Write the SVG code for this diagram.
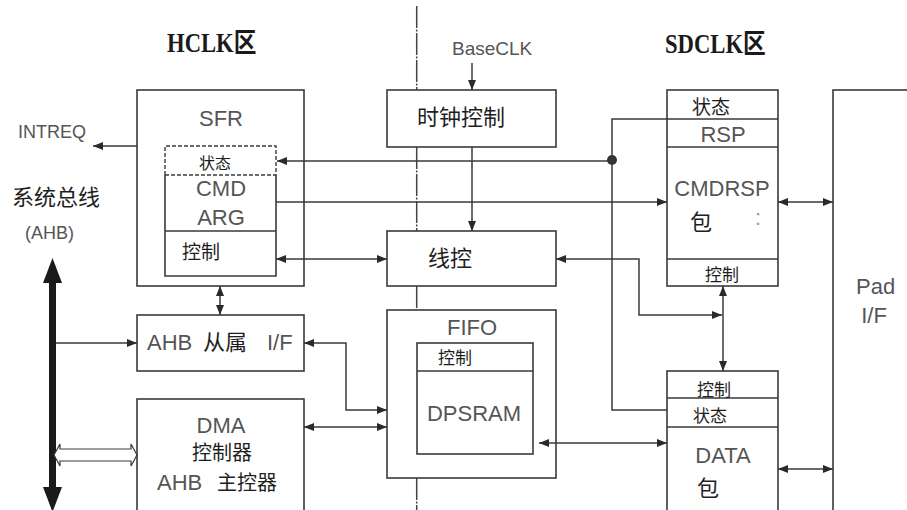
<svg xmlns="http://www.w3.org/2000/svg" width="907" height="510" viewBox="0 0 907 510">
<style>
.box{fill:none;stroke:#3a3a3a;stroke-width:1.6}
.ln{fill:none;stroke:#3a3a3a;stroke-width:1.5}
.dash{fill:none;stroke:#3a3a3a;stroke-width:1.4;stroke-dasharray:4 2}
.zone{fill:none;stroke:#444;stroke-width:1.5;stroke-dasharray:22 1.5 2 1.5}
.lt{font-family:"Liberation Sans","Noto Sans CJK SC",sans-serif;font-size:22px;fill:#555}
.cj{font-family:"Noto Sans CJK SC","Liberation Sans",sans-serif;fill:#1e1e1e}
.ttl{font-family:"Liberation Serif","Noto Sans CJK SC",serif;font-weight:bold;font-size:27px;fill:#1a1a1a}
.m{text-anchor:middle}
</style>
<defs>
<marker id="ah" viewBox="0 0 10 8" refX="10" refY="4" markerWidth="10" markerHeight="8" markerUnits="userSpaceOnUse" orient="auto-start-reverse">
<path d="M0,0 L10,4 L0,8 z" fill="#2a2a2a"/>
</marker>
</defs>
<rect width="907" height="510" fill="#fff"/>

<g id="zone-divider">
<path class="zone" d="M416.7,6 V90 M416.7,147 V231 M416.7,286 V310 M416.7,478 V510"/>
</g>

<g id="titles">
<text class="ttl" transform="translate(167,52) scale(0.84,1)" x="0" y="0">HCLK区</text>
<text class="ttl" transform="translate(665,53) scale(0.84,1)" x="0" y="0">SDCLK区</text>
</g>

<g id="labels">
<text class="lt" x="18" y="138" style="font-size:18px">INTREQ</text>
<text class="cj" x="12" y="205" style="font-size:22px">系统总线</text>
<text class="lt" x="25" y="239" style="font-size:18px">(AHB)</text>
<text class="lt" x="452" y="55" style="font-size:19px">BaseCLK</text>
</g>

<g id="bus">
<rect x="49" y="281" width="7" height="208" fill="#1a1a1a"/>
<path d="M52.5,258 L62,283 L43,283 Z" fill="#1a1a1a"/>
<path d="M43,487 L62,487 L52.5,512 Z" fill="#1a1a1a"/>
<path d="M54,455 L60,444 L60,449 L131,449 L131,444 L137,455 L131,466 L131,461 L60,461 L60,466 Z" fill="#fff" stroke="#3a3a3a" stroke-width="1.2"/>
</g>

<g id="sfr">
<rect class="box" x="137" y="90" width="167" height="196"/>
<text class="lt m" x="221" y="126">SFR</text>
<path class="dash" d="M165,175 V146 H276 V175 M165,175 H276"/>
<path class="box" d="M165,175 V276 H276 V175 M165,231 H276"/>
<text class="cj m" x="215" y="169" style="font-size:16px">状态</text>
<text class="lt m" x="221" y="196">CMD</text>
<text class="lt m" x="221" y="225">ARG</text>
<text class="cj" x="182" y="259" style="font-size:19px">控制</text>
</g>

<g id="clock-ctrl">
<rect class="box" x="387" y="90" width="169" height="57"/>
<text class="cj" x="417" y="125" style="font-size:22px">时钟控制</text>
</g>

<g id="line-ctrl">
<rect class="box" x="387" y="231" width="169" height="55"/>
<text class="cj" x="428" y="266" style="font-size:22px">线控</text>
</g>

<g id="fifo">
<rect class="box" x="387" y="310" width="169" height="168"/>
<text class="lt m" x="472" y="335">FIFO</text>
<rect class="box" x="417" y="343" width="116" height="111"/>
<path class="box" d="M417,371 H533"/>
<text class="cj" x="438" y="364" style="font-size:17px">控制</text>
<text class="lt m" x="474" y="421">DPSRAM</text>
</g>

<g id="ahb-slave">
<rect class="box" x="137" y="315" width="167" height="56"/>
<text class="lt" x="147" y="350">AHB</text>
<text class="cj" x="203" y="350" style="font-size:22px">从属</text>
<text class="lt" x="267" y="350">I/F</text>
</g>

<g id="dma">
<rect class="box" x="137" y="399" width="167" height="130"/>
<text class="lt m" x="221" y="433">DMA</text>
<text class="cj m" x="222" y="460" style="font-size:20px">控制器</text>
<text class="lt" x="157" y="490">AHB</text>
<text class="cj" x="217" y="490" style="font-size:20px">主控器</text>
</g>

<g id="cmdrsp">
<rect class="box" x="667" y="90" width="111" height="196"/>
<path class="box" d="M667,119 H778 M667,147 H778 M667,259 H778"/>
<text class="cj m" x="711" y="114" style="font-size:19px">状态</text>
<text class="lt m" x="723" y="142">RSP</text>
<text class="lt m" x="722" y="196">CMDRSP</text>
<text class="cj" x="690" y="230" style="font-size:22px">包</text>
<text class="lt" x="755" y="225" style="fill:#999">:</text>
<text class="cj m" x="722" y="281" style="font-size:17px">控制</text>
</g>

<g id="data">
<rect class="box" x="667" y="371" width="111" height="160"/>
<path class="box" d="M667,398 H778 M667,427 H778"/>
<text class="cj" x="697" y="396" style="font-size:17px">控制</text>
<text class="cj" x="693" y="422" style="font-size:17px">状态</text>
<text class="lt m" x="723" y="463">DATA</text>
<text class="cj" x="697" y="496" style="font-size:22px">包</text>
</g>

<g id="pad">
<rect class="box" x="833" y="90" width="100" height="440"/>
<text class="lt" x="856" y="294">Pad</text>
<text class="lt m" x="874" y="323">I/F</text>
</g>

<g id="connectors">
<path class="ln" d="M137,146 H93" marker-end="url(#ah)"/>
<path class="ln" d="M472,63 V90" marker-end="url(#ah)"/>
<path class="ln" d="M472,147 V231" marker-end="url(#ah)"/>
<path class="ln" d="M612,161 H277" marker-end="url(#ah)"/>
<circle cx="612" cy="160" r="5" fill="#333"/>
<path class="ln" d="M667,119 H612 V410 H667"/>
<path class="ln" d="M276,202 H667" marker-end="url(#ah)"/>
<path class="ln" d="M778,202 H833" marker-start="url(#ah)" marker-end="url(#ah)"/>
<path class="ln" d="M276,259 H387" marker-start="url(#ah)" marker-end="url(#ah)"/>
<path class="ln" d="M556,259 H639 V315 H722" marker-start="url(#ah)" marker-end="url(#ah)"/>
<path class="ln" d="M723,286 V371" marker-start="url(#ah)" marker-end="url(#ah)"/>
<path class="ln" d="M220,286 V315" marker-start="url(#ah)" marker-end="url(#ah)"/>
<path class="ln" d="M56,343 H137" marker-end="url(#ah)"/>
<path class="ln" d="M304,343 H346 V410 H387" marker-start="url(#ah)" marker-end="url(#ah)"/>
<path class="ln" d="M304,427 H387" marker-start="url(#ah)" marker-end="url(#ah)"/>
<path class="ln" d="M539,443 H667" marker-start="url(#ah)" marker-end="url(#ah)"/>
<path class="ln" d="M778,469 H833" marker-start="url(#ah)" marker-end="url(#ah)"/>
</g>
</svg>
